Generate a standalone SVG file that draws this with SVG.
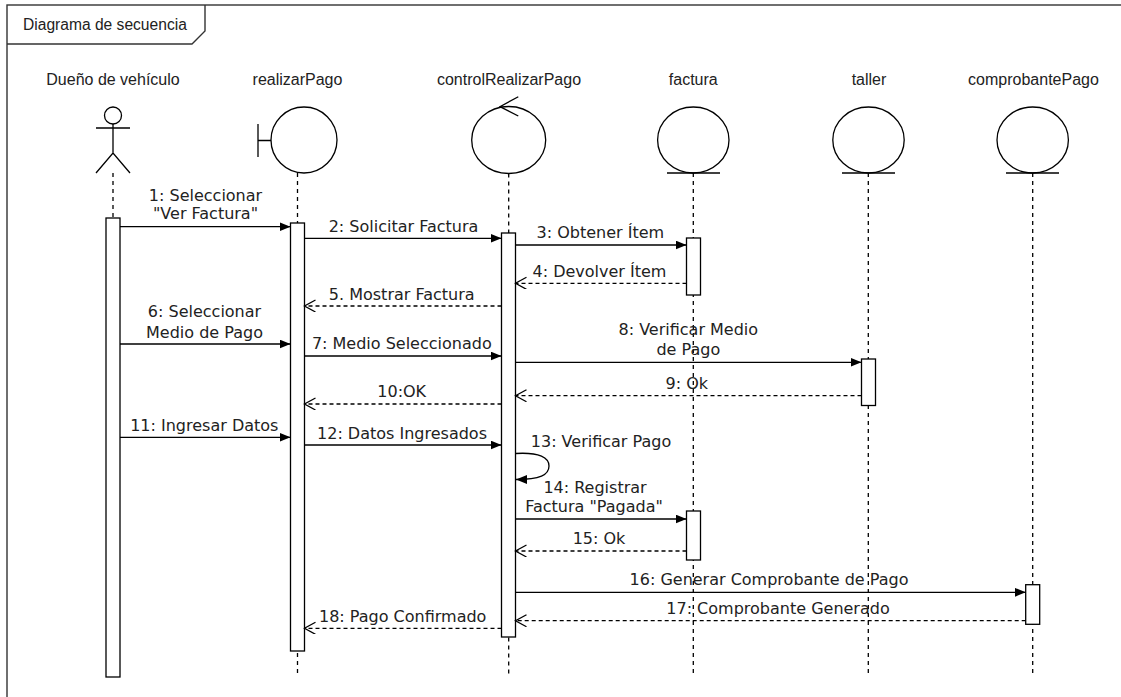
<svg xmlns="http://www.w3.org/2000/svg" width="1121" height="697" viewBox="0 0 1121 697">
<style>
.frame{fill:none;stroke:#333;stroke-width:1.4}
.shape{fill:#fff;stroke:#000;stroke-width:1.3}
.ln{fill:none;stroke:#000;stroke-width:1.3}
.life{fill:none;stroke:#000;stroke-width:1.3;stroke-dasharray:4 4}
.act{fill:#fff;stroke:#000;stroke-width:1.3}
.msg{fill:none;stroke:#000;stroke-width:1.3}
.ret{fill:none;stroke:#000;stroke-width:1.3;stroke-dasharray:4 3}
.lbl{font-family:"Liberation Sans",Arial,sans-serif;font-size:16px;fill:#222;text-anchor:middle}
.m{font-family:"DejaVu Sans",Verdana,sans-serif;font-size:16px;fill:#222;text-anchor:middle}
</style>
<defs>
<marker id="blk" markerUnits="userSpaceOnUse" markerWidth="12" markerHeight="10" refX="11" refY="4.5" orient="auto">
<path d="M0,0 L11,4.5 L0,9 z" fill="#000"/>
</marker>
<marker id="opn" markerUnits="userSpaceOnUse" markerWidth="14" markerHeight="14" refX="12" refY="6" orient="auto">
<path d="M1,0 L12,6 L1,12" fill="none" stroke="#000" stroke-width="1.3"/>
</marker>
</defs>

<g id="frame">
<rect class="frame" x="7" y="5" width="1200" height="800"/>
<path class="frame" d="M7,44 L192,44 L205,31 L205,5" fill="#fff"/>
<text x="23" y="29.5" font-family="Liberation Sans,Arial,sans-serif" font-size="15.6px" fill="#222">Diagrama de secuencia</text>
</g>

<g id="actor">
<text class="lbl" x="113" y="84.5">Dueño de vehículo</text>
<circle class="shape" cx="113" cy="115.5" r="8.5"/>
<path class="ln" d="M113,124 L113,153 M96,128 L130,128 M96,173 L113,153 L130,173"/>
<line class="life" x1="113" y1="173" x2="113" y2="677"/>
<rect class="act" x="106" y="218" width="14" height="459"/>
</g>

<g id="realizarPago">
<text class="lbl" x="297.5" y="84.5">realizarPago</text>
<circle class="shape" cx="304" cy="140" r="33"/>
<path class="ln" d="M258,124 L258,157 M258,140.5 L271,140.5"/>
<line class="life" x1="297.5" y1="173" x2="297.5" y2="677"/>
<rect class="act" x="290.5" y="223" width="14" height="428"/>
</g>

<g id="controlRealizarPago">
<text class="lbl" x="509" y="84.5">controlRealizarPago</text>
<ellipse class="shape" cx="508.7" cy="140" rx="37" ry="33.5"/>
<path class="ln" d="M518.3,96.7 L500,106.7 L518.3,116"/>
<line class="life" x1="508.7" y1="173.5" x2="508.7" y2="677"/>
<rect class="act" x="501.5" y="233" width="14" height="404"/>
</g>

<g id="factura">
<text class="lbl" x="693.3" y="84.5">factura</text>
<ellipse class="shape" cx="693.3" cy="140" rx="35.7" ry="33"/>
<line class="ln" x1="667" y1="173" x2="720" y2="173"/>
<line class="life" x1="693.3" y1="173" x2="693.3" y2="677"/>
<rect class="act" x="686.5" y="238" width="14" height="57"/>
<rect class="act" x="686.5" y="511" width="14" height="49"/>
</g>

<g id="taller">
<text class="lbl" x="869" y="84.5">taller</text>
<ellipse class="shape" cx="868.5" cy="140" rx="35.7" ry="33"/>
<line class="ln" x1="842" y1="173" x2="895" y2="173"/>
<line class="life" x1="868.3" y1="173" x2="868.3" y2="677"/>
<rect class="act" x="861.5" y="359" width="14" height="46.5"/>
</g>

<g id="comprobantePago">
<text class="lbl" x="1033.5" y="84.5">comprobantePago</text>
<ellipse class="shape" cx="1032.7" cy="140" rx="35.7" ry="33"/>
<line class="ln" x1="1006" y1="173" x2="1059" y2="173"/>
<line class="life" x1="1032.7" y1="173" x2="1032.7" y2="677"/>
<rect class="act" x="1025.7" y="584.7" width="14" height="39.6"/>
</g>

<g id="connectors">
<line class="msg" x1="120" y1="226.7" x2="290.5" y2="226.7" marker-end="url(#blk)"/>
<line class="msg" x1="304.5" y1="238.3" x2="501.5" y2="238.3" marker-end="url(#blk)"/>
<line class="msg" x1="515.5" y1="245" x2="686.5" y2="245" marker-end="url(#blk)"/>
<line class="ret" x1="686.5" y1="283.3" x2="515.5" y2="283.3" marker-end="url(#opn)"/>
<line class="ret" x1="501.5" y1="306" x2="304.5" y2="306" marker-end="url(#opn)"/>
<line class="msg" x1="120" y1="344" x2="290.5" y2="344" marker-end="url(#blk)"/>
<line class="msg" x1="304.5" y1="356" x2="501.5" y2="356" marker-end="url(#blk)"/>
<line class="msg" x1="515.5" y1="362.3" x2="861.5" y2="362.3" marker-end="url(#blk)"/>
<line class="ret" x1="861.5" y1="395.7" x2="515.5" y2="395.7" marker-end="url(#opn)"/>
<line class="ret" x1="501.5" y1="404" x2="304.5" y2="404" marker-end="url(#opn)"/>
<line class="msg" x1="120" y1="437.3" x2="290.5" y2="437.3" marker-end="url(#blk)"/>
<line class="msg" x1="304.5" y1="445" x2="501.5" y2="445" marker-end="url(#blk)"/>
<path class="msg" d="M515.5,453.5 C540,452 549,458 549,466 C549,475 540,479.5 516,479.5" marker-end="url(#blk)"/>
<line class="msg" x1="515.5" y1="519" x2="686.5" y2="519" marker-end="url(#blk)"/>
<line class="ret" x1="686.5" y1="551" x2="515.5" y2="551" marker-end="url(#opn)"/>
<line class="msg" x1="515.5" y1="592.3" x2="1025.7" y2="592.3" marker-end="url(#blk)"/>
<line class="ret" x1="1025.7" y1="620.7" x2="515.5" y2="620.7" marker-end="url(#opn)"/>
<line class="ret" x1="501.5" y1="628.3" x2="304.5" y2="628.3" marker-end="url(#opn)"/>

<text class="m" x="205.5" y="201">1: Seleccionar</text>
<text class="m" x="205.5" y="219">"Ver Factura"</text>
<text class="m" x="403.5" y="232">2: Solicitar Factura</text>
<text class="m" x="600.3" y="238">3: Obtener Ítem</text>
<text class="m" x="599.5" y="276.5">4: Devolver Ítem</text>
<text class="m" x="401.7" y="300">5. Mostrar Factura</text>
<text class="m" x="204.5" y="317">6: Seleccionar</text>
<text class="m" x="204.5" y="337.5">Medio de Pago</text>
<text class="m" x="401.8" y="349">7: Medio Seleccionado</text>
<text class="m" x="688.3" y="335">8: Verificar Medio</text>
<text class="m" x="688.3" y="355">de Pago</text>
<text class="m" x="686.8" y="388.5">9: Ok</text>
<text class="m" x="401.7" y="396.5">10:OK</text>
<text class="m" x="204.3" y="431">11: Ingresar Datos</text>
<text class="m" x="402" y="438.5">12: Datos Ingresados</text>
<text class="m" x="601" y="446.5">13: Verificar Pago</text>
<text class="m" x="595" y="492.5">14: Registrar</text>
<text class="m" x="594" y="512">Factura "Pagada"</text>
<text class="m" x="599" y="543.5">15: Ok</text>
<text class="m" x="769" y="585">16: Generar Comprobante de Pago</text>
<text class="m" x="778" y="613.5">17: Comprobante Generado</text>
<text class="m" x="402.7" y="622">18: Pago Confirmado</text>
</g>
</svg>
